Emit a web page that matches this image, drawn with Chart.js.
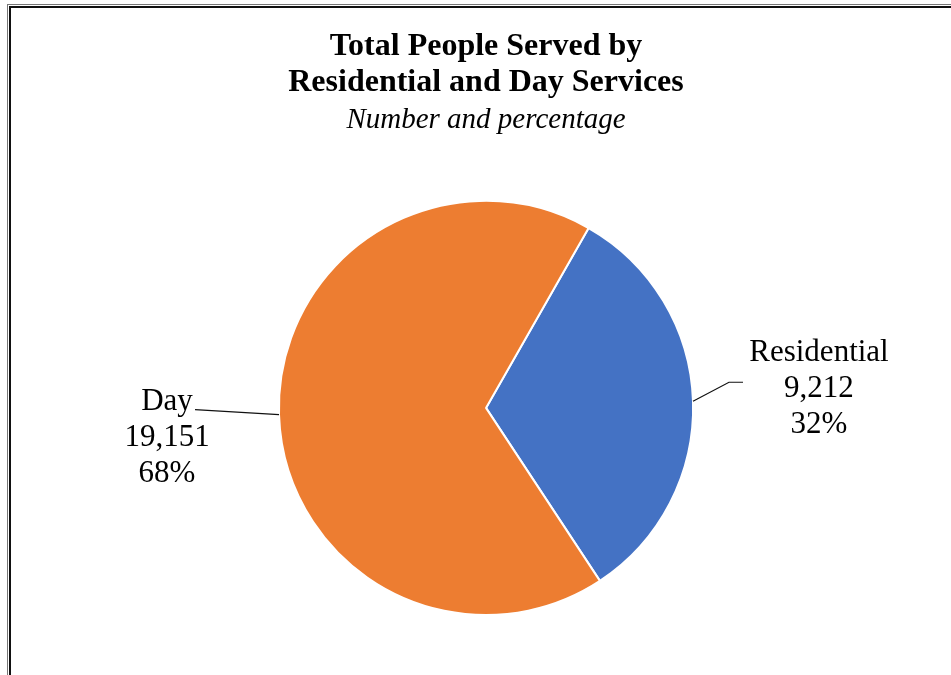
<!DOCTYPE html>
<html>
<head>
<meta charset="utf-8">
<script src="https://cdn.jsdelivr.net/npm/chart.js@4/dist/chart.umd.min.js"></script>
<style>
  html, body { margin: 0; padding: 0; background: #fff; }
  #wrap { position: relative; width: 951px; height: 675px; overflow: hidden; }
  canvas { position: absolute; left: 0; top: 0; }
  .f1 { position: absolute; left: 7px; top: 4px; width: 2000px; height: 2000px; border-left: 1px solid #777; border-top: 1px solid #777; pointer-events: none; }
  .f2 { position: absolute; left: 9px; top: 6px; width: 2000px; height: 2000px; border-left: 2px solid #111; border-top: 2px solid #111; pointer-events: none; }
</style>
</head>
<body>
<div id="wrap">
  <canvas id="c" width="951" height="675"></canvas>
  <div class="f1"></div>
  <div class="f2"></div>
</div>
<script>
const categories = ["Residential", "Day"];
const values = [9212, 19151];
const colors = ["#4472C4", "#ED7D31"];
const titleLines = ["Total People Served by", "Residential and Day Services"];
const subtitleText = "Number and percentage";

const total = values.reduce((a, b) => a + b, 0);

const labelPlugin = {
  id: "sliceLabels",
  afterDatasetsDraw(chart, args, opts) {
    const ctx = chart.ctx;
    const meta = chart.getDatasetMeta(0);
    ctx.save();
    ctx.font = opts.font;
    ctx.fillStyle = "#000";
    ctx.strokeStyle = "#111";
    ctx.lineWidth = 1.2;
    ctx.textAlign = "center";
    ctx.textBaseline = "alphabetic";
    meta.data.forEach((arc, i) => {
      const p = arc.getProps(["x", "y", "startAngle", "endAngle", "outerRadius"], true);
      const mid = (p.startAngle + p.endAngle) / 2;
      const ex = p.x + p.outerRadius * Math.cos(mid);
      const ey = p.y + p.outerRadius * Math.sin(mid);
      const L = opts.layout[i];
      ctx.beginPath();
      ctx.moveTo(ex, ey);
      L.leader.forEach(pt => ctx.lineTo(ex + pt[0], ey + pt[1]));
      ctx.stroke();
      const pct = Math.round(values[i] / total * 100) + "%";
      const lines = [categories[i], values[i].toLocaleString("en-US"), pct];
      lines.forEach((t, k) => {
        ctx.fillText(t, ex + L.text[0], ey + L.text[1] + k * opts.lineGap);
      });
    });
    ctx.restore();
  }
};

new Chart(document.getElementById("c"), {
  type: "pie",
  data: {
    labels: categories,
    datasets: [{
      data: values,
      backgroundColor: colors,
      borderColor: "#ffffff",
      borderWidth: 2
    }]
  },
  options: {
    responsive: false,
    animation: false,
    rotation: 29.7,
    layout: { padding: { left: 21, right: 0, top: 0, bottom: 59 } },
    plugins: {
      legend: { display: false },
      tooltip: { enabled: false },
      title: {
        display: true,
        text: titleLines,
        color: "#000",
        font: { family: "'Liberation Serif', 'Times New Roman', serif", size: 32, weight: "bold", lineHeight: 1.125 },
        padding: { top: 29, bottom: 0 }
      },
      subtitle: {
        display: true,
        text: subtitleText,
        color: "#000",
        font: { family: "'Liberation Serif', 'Times New Roman', serif", size: 29, style: "italic", lineHeight: 1.2 },
        padding: { top: 2, bottom: 62 }
      },
      sliceLabels: {
        font: "31px 'Liberation Serif', 'Times New Roman', serif",
        lineGap: 36,
        layout: [
          { leader: [[36, -19], [50, -19]], text: [126, -40] },
          { leader: [[-84, -5]], text: [-112, -5] }
        ]
      }
    }
  },
  plugins: [labelPlugin]
});
</script>
</body>
</html>
